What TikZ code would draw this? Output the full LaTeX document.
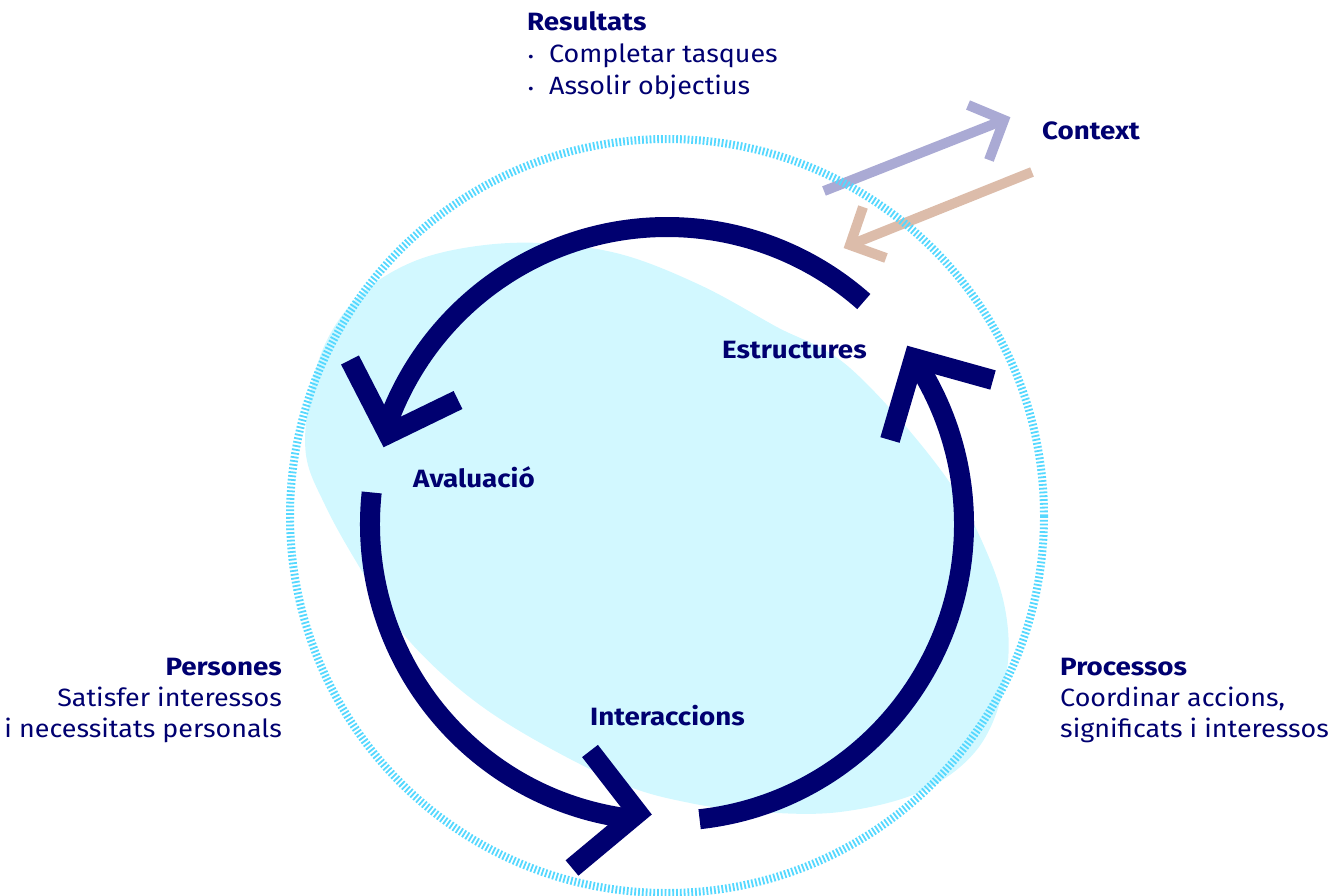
\documentclass[tikz,border=0pt]{standalone}
\usepackage{fontspec}
\setmainfont{Fira Sans}[FakeStretch=1.075, BoldFeatures={FakeStretch=1.11}]
\definecolor{cyclenavy}{RGB}{0,0,112}
\definecolor{blobcyan}{RGB}{210,248,255}
\definecolor{ringcyan}{RGB}{85,216,255}
\definecolor{ctxlav}{RGB}{170,170,212}
\definecolor{ctxsalmon}{RGB}{220,188,170}
\begin{document}
\begin{tikzpicture}[x=1pt,y=-1pt,
  navyline/.style={draw=cyclenavy, line width=20pt, line cap=butt, line join=miter, miter limit=10},
  ctxline/.style={line width=10pt, line cap=butt, line join=miter, miter limit=10},
  ringline/.style={draw=ringcyan, line width=8pt, dash pattern=on 1.8pt off 2pt},
  lbl/.style={inner sep=0pt, text=cyclenavy, font=\fontsize{25}{32}\selectfont},
  lblb/.style={inner sep=0pt, text=cyclenavy, font=\fontsize{25}{32}\selectfont\bfseries}]
\useasboundingbox (0,0) rectangle (1343,896);
\coordinate (cc) at (667,524);
\coordinate (rc) at (667,516);
% light blob
\fill[blobcyan] plot[smooth cycle, tension=0.6] coordinates {
 (306,455) (310,395) (327,340) (360,295) (410,263) (470,247) (540,243) (620,254)
 (700,285) (775,326) (850,368) (943,473) (990,560) (1008,630) (1002,695)
 (975,752) (920,792) (840,812) (760,812) (690,803) (620,783) (523,733)
 (457,687) (400,630) (357,563) (325,505)};
% context arrows
\coordinate (lavtail) at (824,191);
\coordinate (lavtip) at (1004,120);
\coordinate (saltail) at (1032,172);
\coordinate (saltip) at (850,245);
\draw[ctxline, draw=ctxlav] (lavtail) -- (lavtip);
\draw[ctxline, draw=ctxlav] (968,105) -- (lavtip) -- (989,160);
\draw[ctxline, draw=ctxsalmon] (saltail) -- (saltip);
\draw[ctxline, draw=ctxsalmon] (863,207) -- (saltip) -- (886,258);
% dotted ring
\draw[ringline] (rc) circle[radius=377];
% cycle arcs
\draw[navyline] (cc) ++(-48.5:297) arc[start angle=-48.5, end angle=-161, radius=297];
\draw[navyline] (350,360) -- (388,434) -- (458,400);
\draw[navyline] (cc) ++(-173.9:297) arc[start angle=-173.9, end angle=-263, radius=297];
\draw[navyline] (590,751) -- (638,813) -- (572,868);
\draw[navyline] (cc) ++(-276.3:297) arc[start angle=-276.3, end angle=-392, radius=297];
\draw[navyline] (890,440) -- (914,358) -- (993,380);
% labels
\node[lblb, anchor=base west] (res) at (527,31) {Resultats};
\node[lbl, anchor=base west] (bul1) at (528,63) {\fontsize{16}{16}\selectfont •};
\node[lbl, anchor=base west] (res1) at (549,63) {Completar tasques};
\node[lbl, anchor=base west] (bul2) at (528,95) {\fontsize{16}{16}\selectfont •};
\node[lbl, anchor=base west] (res2) at (549,95) {Assolir objectius};
\node[lblb, anchor=base west] (ctx) at (1042,140) {Context};
\node[lblb, anchor=base west] (est) at (722,358) {Estructures};
\node[lblb, anchor=base west] (aval) at (413,487) {Avaluació};
\node[lblb, anchor=base west] (inter) at (590,725) {Interaccions};
\node[lblb, anchor=base east] (pers) at (282,675) {Persones};
\node[lbl, anchor=base east] (pers1) at (282,706) {Satisfer interessos};
\node[lbl, anchor=base east] (pers2) at (282,737) {i necessitats personals};
\node[lblb, anchor=base west] (proc) at (1060,675) {Processos};
\node[lbl, anchor=base west] (proc1) at (1060,706) {Coordinar accions,};
\node[lbl, anchor=base west] (proc2) at (1060,737) {significats i interessos};
\end{tikzpicture}
\end{document}
